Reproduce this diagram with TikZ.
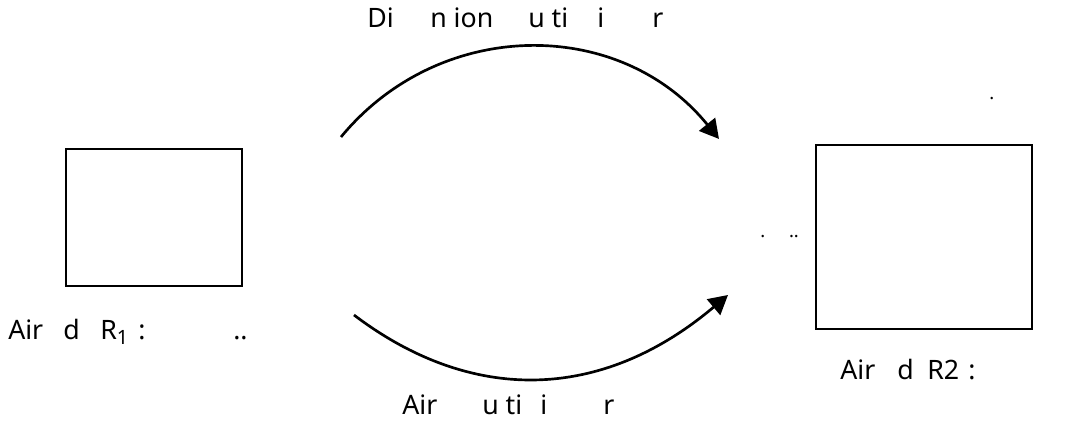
\documentclass[tikz,border=0pt]{standalone}
\usepackage{fontspec}
\setmainfont{Noto Sans}
\usetikzlibrary{positioning, arrows.meta}

\newlength\pxunit
\setlength\pxunit{0.025cm}
\newcommand{\pxbox}[2]{\makebox[#1\pxunit][l]{#2}}

\begin{document}
\begin{tikzpicture}[
    x=0.025cm, y=0.025cm,
    regionbox/.style={draw, line width=1.7pt, rectangle, fill=white},
    flowarc/.style={line width=1.9pt, -{Triangle[length=13.5pt, width=14.5pt]}},
    lbl/.style={anchor=base west, inner sep=0pt, font=\fontsize{19}{22}\selectfont}
]
    \useasboundingbox (0,0) rectangle (1088,425);

    % --- Regions ---
    \node[regionbox, minimum width=4.4cm, minimum height=3.425cm] (rone) at (154,207.5) {};
    \node[regionbox, minimum width=5.4cm, minimum height=4.6cm] (rtwo) at (924,188) {};

    % --- Labels ---
    \node[lbl] (rlabone) at (8,85)
        {\pxbox{55}{Air}\pxbox{37}{d}\pxbox{38}{R\raisebox{-3pt}{\fontsize{14}{16}\selectfont 1}}\pxbox{95}{:}..};
    \node[lbl] (rlabtwo) at (840,45)
        {\pxbox{57}{Air}\pxbox{30}{d}\pxbox{41}{R2}:};
    \node[lbl] (toplab) at (367,397)
        {\pxbox{63}{Di}\pxbox{98}{n ion}\pxbox{69}{u ti}\pxbox{55}{i}r};
    \node[lbl] (botlab) at (402,10)
        {\pxbox{80}{Air}\pxbox{58}{u ti}\pxbox{63}{i}r};
    \node[lbl, font=\fontsize{13}{16}\selectfont] (dotsmid) at (760,187) {.\hspace{17pt}..};
    \node[lbl, font=\fontsize{13}{16}\selectfont] (dottop) at (989,325) {.};

    % --- Arcs ---
    \coordinate (topstart) at (341,288);
    \coordinate (topend)   at (719,286);
    \coordinate (botstart) at (354,110);
    \coordinate (botend)   at (728,130);

    \draw[flowarc] (topstart) .. controls (440,408) and (620,408) .. (topend);
    \draw[flowarc] (botstart) .. controls (470,22) and (600,22) .. (botend);
\end{tikzpicture}
\end{document}
